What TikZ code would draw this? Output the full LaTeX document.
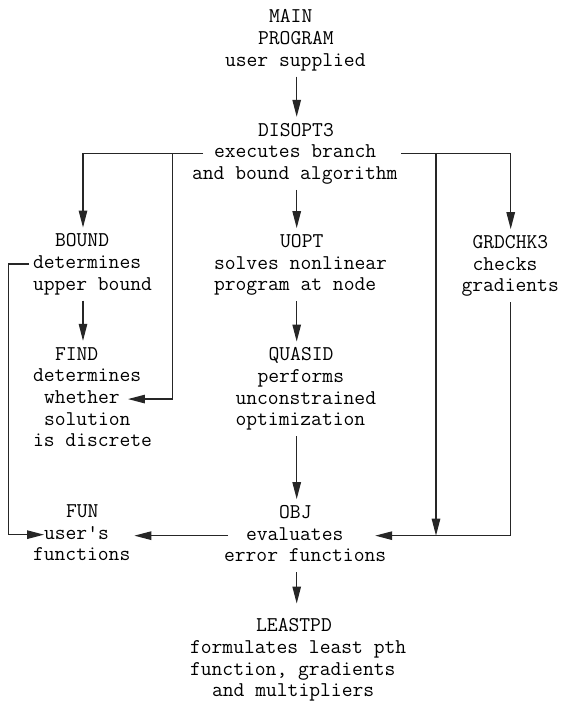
\documentclass[tikz,border=0pt]{standalone}
\usepackage{fontspec}
\usetikzlibrary{arrows.meta}
\newdimen\cwd \cwd=11.025pt
\newcommand\tind[1]{\hspace*{#1\cwd}}
\newcommand\tblock[1]{\begin{tabular}[t]{@{}l@{}}#1\end{tabular}}
\begin{document}
\begin{tikzpicture}[x=1pt,y=-1pt,
  txt/.style={anchor=text, inner sep=0pt, outer sep=4pt, font=\ttfamily\fontsize{21}{21.7}\selectfont\addfontfeatures{FakeBold=1.2}},
  conn/.style={line width=1.2pt, draw=black!85},
  arr/.style={conn, -{Triangle[length=17pt,width=8.5pt]}}]
\fill[white] (0,0) rectangle (563,701);
\useasboundingbox (0,0) rectangle (563,701);

\coordinate (cx) at (296.7,0);
\coordinate (bx) at (83,0);
\coordinate (fx) at (172.3,0);
\coordinate (ox) at (436,0);
\coordinate (gx) at (510.7,0);
\coordinate (lx) at (8.5,0);

\node[txt] (main) at (225,22.7) {\tblock{\tind4MAIN\\\tind3PROGRAM\\user supplied}};
\node[txt] (disopt) at (192,136) {\tblock{\tind6DISOPT3\\\tind2executes branch\\and bound algorithm}};
\node[txt] (bound) at (33,246.7) {\tblock{\tind2BOUND\\determines\\upper bound}};
\node[txt] (uopt) at (214,247.3) {\tblock{\tind6UOPT\\solves nonlinear\\program at node}};
\node[txt] (grdchk) at (461.5,248.3) {\tblock{\tind1GRDCHK3\\\tind1checks\\gradients}};
\node[txt] (find) at (33,360) {\tblock{\tind2FIND\\determines\\\tind1whether\\\tind1solution\\is discrete}};
\node[txt] (quasid) at (235.5,360.7) {\tblock{\tind3QUASID\\\tind2performs\\unconstrained\\optimization}};
\node[txt] (fun) at (33,517.3) {\tblock{\tind3FUN\\\tind1user's\\functions}};
\node[txt] (obj) at (224,518.3) {\tblock{\tind5OBJ\\\tind2evaluates\\error functions}};
\node[txt] (leastpd) at (190,631.7) {\tblock{\tind6LEASTPD\\formulates least pth\\function, gradients\\\tind2and multipliers}};

\draw[arr] (cx |- main.south) -- (cx |- disopt.north);
\draw[arr] ([xshift=15pt]disopt.west) -| (bx |- bound.north);
\draw[arr] (disopt.east) -| (gx |- grdchk.north);
\draw[arr] (fx |- disopt.west) |- ([xshift=-28pt]find.east);
\draw[arr] (ox |- disopt.east) -- (ox |- obj.east);
\draw[arr] (cx |- disopt.south) -- (cx |- uopt.north);
\draw[arr] (bx |- bound.south) -- (bx |- find.north);
\draw[arr] (bound.west) -| (lx |- fun.west) -- ([xshift=15pt]fun.west);
\draw[arr] (cx |- uopt.south) -- (cx |- quasid.north);
\draw[arr] (cx |- quasid.south) -- (cx |- obj.north);
\draw[arr] ([xshift=8pt]obj.west) -- (fun.east |- obj.west);
\draw[arr] (gx |- grdchk.south) |- ([xshift=-15pt]obj.east);
\draw[arr] (cx |- obj.south) -- ([yshift=9pt]cx |- leastpd.north);
\end{tikzpicture}
\end{document}
